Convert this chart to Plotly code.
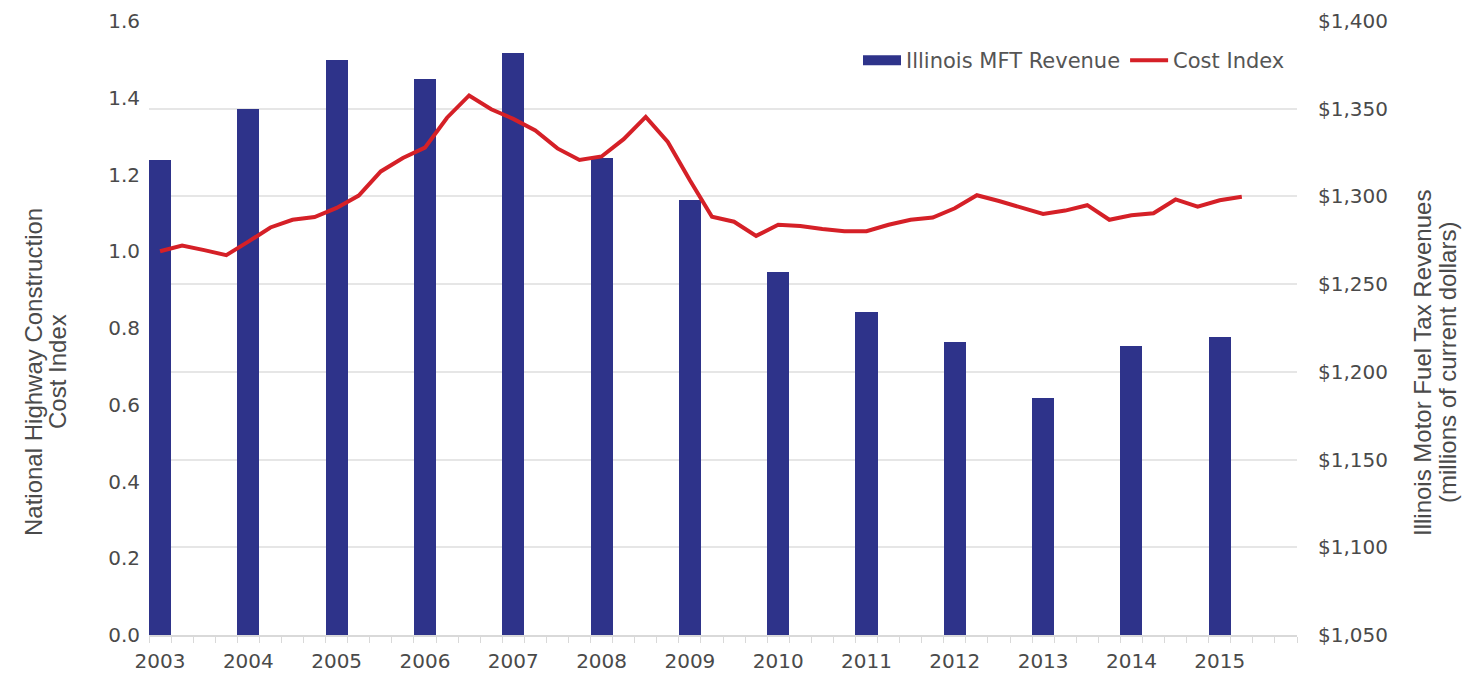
import plotly.graph_objects as go

# ---- data ----
years = [str(y) for y in range(2003, 2016)]
quarters = [f"{y} Q{q}" for y in range(2003, 2016) for q in range(1, 5)]
revenue = [1321, 1350, 1378, 1367, 1382, 1322, 1298, 1257, 1234, 1217, 1185, 1215, 1220]
cost_index = [
    1.000, 1.015, 1.003, 0.990, 1.025, 1.062, 1.082, 1.089, 1.113, 1.145,
    1.208, 1.243, 1.270, 1.348, 1.406, 1.370, 1.345, 1.315, 1.268, 1.238,
    1.247, 1.292, 1.350, 1.285, 1.185, 1.090, 1.077, 1.040, 1.069, 1.066,
    1.058, 1.052, 1.052, 1.069, 1.082, 1.088, 1.112, 1.146, 1.131, 1.114,
    1.097, 1.106, 1.120, 1.082, 1.094, 1.099, 1.135, 1.116, 1.133, 1.142,
]
left_ticks = [0.0, 0.2, 0.4, 0.6, 0.8, 1.0, 1.2, 1.4, 1.6]
right_ticks = [1050, 1100, 1150, 1200, 1250, 1300, 1350, 1400]
left_title = ["National Highway Construction", "Cost Index"]
right_title = ["Illinois Motor Fuel Tax Revenues", "(millions of current dollars)"]

NAVY = "rgb(46,51,138)"
RED = "rgb(213,32,39)"
GRID = "#E6E6E6"
TXT = "#4a4a4a"
FONT = "DejaVu Sans"

# page offset (body margin of the html page)
OFF = 8
PL, PR, PT, PB = 149, 1297, 21, 635  # plot box in page pixels
W, H = 1480 - OFF, 677 - OFF
PW, PH = PR - PL, PB - PT


def px(x):
    return (x - PL) / PW


def py(y):
    return (PB - y) / PH


qpos = {q: i for i, q in enumerate(quarters)}
bar_x = [qpos[f"{y} Q1"] for y in years]
line_x = list(range(len(cost_index)))

fig = go.Figure()
fig.add_trace(go.Bar(
    x=bar_x, y=revenue, width=[1] * len(bar_x), marker_color=NAVY,
    marker_line_width=0, name="Illinois MFT Revenue", showlegend=False,
    yaxis="y",
))
# legend entry for bars (wide swatch like the original)
fig.add_trace(go.Scatter(
    x=[None], y=[None], mode="lines", line=dict(color=NAVY, width=10),
    name="Illinois MFT Revenue", yaxis="y",
))
fig.add_trace(go.Scatter(
    x=line_x, y=cost_index, mode="lines", line=dict(color=RED, width=4),
    name="Cost Index", yaxis="y2",
))

annotations = []
for txt, xx in zip(left_title, [33, 57]):
    annotations.append(dict(
        text=txt, xref="paper", yref="paper", x=px(xx), y=py(372),
        xanchor="center", yanchor="middle", textangle=-90, showarrow=False,
        font=dict(size=24, color=TXT, family="Liberation Sans"),
    ))
for txt, xx in zip(right_title, [1422, 1447]):
    annotations.append(dict(
        text=txt, xref="paper", yref="paper", x=px(xx), y=py(363),
        xanchor="center", yanchor="middle", textangle=-90, showarrow=False,
        font=dict(size=24, color=TXT, family="Liberation Sans"),
    ))

fig.update_layout(
    width=W, height=H,
    margin=dict(l=PL - OFF, r=W - (PR - OFF), t=PT - OFF, b=H - (PB - OFF),
                autoexpand=False),
    plot_bgcolor="white", paper_bgcolor="white",
    font=dict(family=FONT, color=TXT, size=20),
    xaxis=dict(
        range=[-0.5, len(quarters) - 0.5], automargin=False,
        tickmode="array", tickvals=bar_x, ticktext=years,
        ticks="", showgrid=False, zeroline=False,
        showline=True, linecolor="#D9D9D9", linewidth=2,
        tickfont=dict(size=20, color=TXT),
        ticklabelstandoff=7,
        minor=dict(
            tickmode="array",
            tickvals=[i - 0.5 for i in range(len(quarters) + 1)],
            ticks="outside", ticklen=6, tickcolor="#D9D9D9", tickwidth=1,
            showgrid=False,
        ),
    ),
    yaxis=dict(
        side="right", range=[1050, 1400], automargin=False,
        tickmode="array", tickvals=right_ticks,
        ticktext=[f"${v:,}" for v in right_ticks],
        showgrid=True, gridcolor=GRID,
        gridwidth=2, zeroline=False, ticks="", ticklabelstandoff=20,
        tickfont=dict(size=20, color=TXT),
    ),
    yaxis2=dict(
        side="left", overlaying="y", range=[0, 1.6], automargin=False,
        tickmode="array", tickvals=left_ticks,
        ticktext=[f"{v:.1f}" for v in left_ticks],
        showgrid=False, zeroline=False,
        ticks="", ticklabelstandoff=8, tickfont=dict(size=20, color=TXT),
    ),
    legend=dict(
        orientation="h", x=px(1290), xanchor="right", y=py(40), yanchor="top",
        font=dict(size=21, color="#555555"), itemwidth=38,
        bgcolor="rgba(0,0,0,0)", traceorder="normal",
    ),
    annotations=annotations,
    bargap=0,
)

fig.write_html("out.html")
